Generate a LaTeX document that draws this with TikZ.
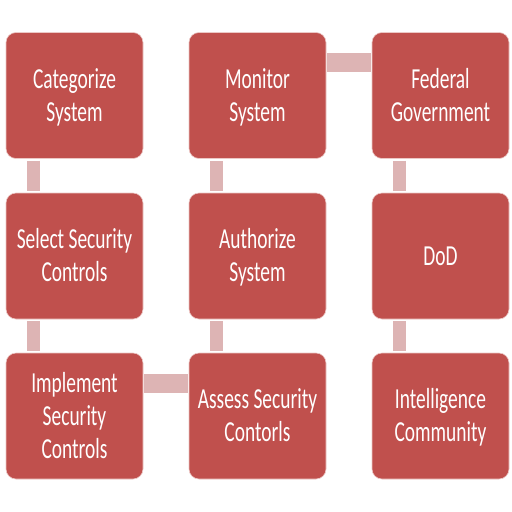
\documentclass[tikz,border=0pt]{standalone}
\usepackage{fontspec}
\setmainfont{Carlito}
\usepackage{graphicx}
\definecolor{boxred}{RGB}{192,80,77}
\definecolor{linkpink}{RGB}{221,180,180}
\definecolor{boxedge}{RGB}{236,200,198}
\begin{document}
\begin{tikzpicture}[x=1pt,y=-1pt]
			\newcommand{\boxlabel}[1]{\raisebox{0pt}[\dimexpr\height+5pt\relax]{\scalebox{0.67}[1]{\begin{tabular}{@{}c@{}}#1\end{tabular}}}}
			\useasboundingbox (0,0) rectangle (512,512);
			\fill[white] (0,0) rectangle (512,512);
			\begin{scope}[rectangle,rounded corners=10pt,minimum width=137pt,minimum height=126pt,inner sep=0pt]
				\tikzstyle{every node}=[draw=boxedge,line width=0.6pt,fill=boxred,text=white,font=\fontsize{29}{33}\selectfont]
				\node (cat) at (74.5,95.5) {\boxlabel{Categorize\\System}};
				\node (sel) at (74.5,256) {\boxlabel{Select Security\\Controls}};
				\node (imp) at (74.5,416) {\boxlabel{Implement\\Security\\Controls}};
				\node (mon) at (257.5,95.5) {\boxlabel{Monitor\\System}};
				\node (aut) at (257.5,256) {\boxlabel{Authorize\\System}};
				\node (ass) at (257.5,416) {\boxlabel{Assess Security\\Contorls}};
				\node (fed) at (440.5,95.5) {\boxlabel{Federal\\Government}};
				\node (dod) at (440.5,256) {\boxlabel{DoD}};
				\node (int) at (440.5,416) {\boxlabel{Intelligence\\Community}};
			\end{scope}
			\begin{scope}[linkpink,shorten >=2pt,shorten <=2pt]
				\tikzstyle{every path}=[line width=13pt]
				\draw ([xshift=-41pt]cat.south) -- ([xshift=-41pt]sel.north);
				\draw ([xshift=-41pt]sel.south) -- ([xshift=-41pt]imp.north);
				\draw ([xshift=-41pt]ass.north) -- ([xshift=-41pt]aut.south);
				\draw ([xshift=-41pt]aut.north) -- ([xshift=-41pt]mon.south);
				\draw ([xshift=-41pt]fed.south) -- ([xshift=-41pt]dod.north);
				\draw ([xshift=-41pt]dod.south) -- ([xshift=-41pt]int.north);
				\draw [line width=19pt,shorten >=1pt,shorten <=1pt] ([yshift=33pt]imp.east) -- ([yshift=33pt]ass.west);
				\draw [line width=19pt,shorten >=1pt,shorten <=1pt] ([yshift=33pt]mon.east) -- ([yshift=33pt]fed.west);
			\end{scope}
		\end{tikzpicture}
\end{document}
